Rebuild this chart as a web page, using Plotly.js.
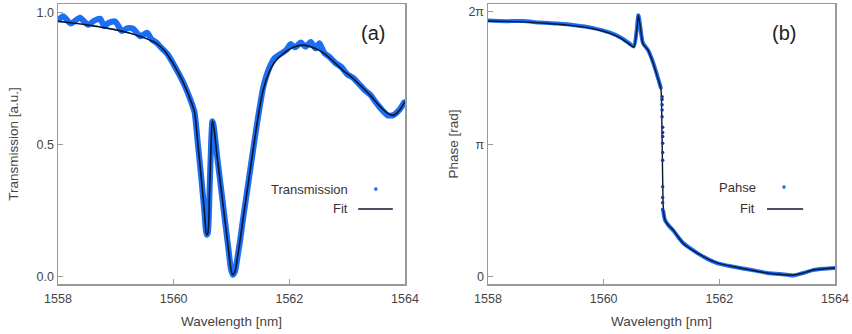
<!DOCTYPE html>
<html>
<head>
<meta charset="utf-8">
<script src="https://cdn.plot.ly/plotly-3.0.1.min.js"></script>
<style>html,body{margin:0;padding:0;background:#fff}#chart{width:852px;height:334px}</style>
</head>
<body>
<div id="chart"></div>
<script>
// ---------- Panel (a): Transmission ----------
const transX = [1558.00,1558.09,1558.22,1558.38,1558.52,1558.62,1558.73,1558.80,1558.87,1558.99,1559.10,1559.20,1559.30,1559.42,1559.54,1559.62,1559.70,1559.80,1559.90,1560.00,1560.10,1560.20,1560.30,1560.36,1560.42,1560.48,1560.53,1560.57,1560.59,1560.62,1560.65,1560.67,1560.69,1560.75,1560.80,1560.85,1560.90,1560.95,1560.99,1561.02,1561.06,1561.10,1561.15,1561.20,1561.30,1561.40,1561.47,1561.55,1561.65,1561.75,1561.85,1561.95,1562.02,1562.10,1562.20,1562.28,1562.37,1562.45,1562.52,1562.60,1562.70,1562.80,1562.90,1563.00,1563.10,1563.20,1563.30,1563.40,1563.50,1563.60,1563.70,1563.80,1563.90,1564.00];
const transY = [0.972,0.988,0.960,0.982,0.955,0.970,0.978,0.950,0.962,0.968,0.932,0.942,0.940,0.912,0.925,0.900,0.888,0.865,0.842,0.805,0.765,0.720,0.665,0.625,0.500,0.370,0.250,0.160,0.165,0.320,0.520,0.590,0.575,0.460,0.370,0.280,0.190,0.100,0.030,0.008,0.020,0.070,0.140,0.220,0.370,0.520,0.620,0.720,0.790,0.830,0.845,0.860,0.882,0.870,0.888,0.872,0.890,0.866,0.885,0.850,0.832,0.810,0.795,0.768,0.755,0.732,0.708,0.690,0.660,0.633,0.612,0.613,0.632,0.666];
const fitTX = [1558.00,1558.25,1558.50,1558.75,1559.00,1559.25,1559.50,1559.70,1559.85,1560.00,1560.10,1560.20,1560.30,1560.36,1560.42,1560.48,1560.53,1560.57,1560.59,1560.62,1560.65,1560.67,1560.69,1560.75,1560.80,1560.85,1560.90,1560.95,1560.99,1561.02,1561.06,1561.10,1561.15,1561.20,1561.30,1561.40,1561.47,1561.55,1561.65,1561.75,1561.90,1562.07,1562.25,1562.45,1562.60,1562.77,1562.94,1563.06,1563.23,1563.41,1563.55,1563.70,1563.80,1563.90,1564.00];
const fitTY = [0.968,0.962,0.955,0.946,0.936,0.923,0.905,0.885,0.855,0.805,0.765,0.720,0.665,0.625,0.500,0.370,0.250,0.160,0.165,0.320,0.520,0.590,0.575,0.460,0.370,0.280,0.190,0.100,0.030,0.008,0.020,0.070,0.140,0.220,0.370,0.520,0.620,0.710,0.775,0.815,0.847,0.870,0.878,0.865,0.847,0.815,0.780,0.760,0.725,0.685,0.650,0.620,0.612,0.630,0.665];

// ---------- Panel (b): Phase (in units of pi) ----------
const phaseX = [1558.0,1558.3,1558.6,1558.9,1559.2,1559.5,1559.8,1560.1,1560.3,1560.45,1560.52,1560.57,1560.60,1560.63,1560.68,1560.77,1560.85,1560.93,1560.99];
const phaseY = [1.935,1.930,1.932,1.920,1.912,1.900,1.880,1.845,1.805,1.760,1.740,1.860,1.975,1.900,1.765,1.710,1.625,1.515,1.425];
const phaseJumpX = [1561.01,1561.01,1561.01,1561.01,1561.01,1561.02,1561.02,1561.02,1561.02,1561.02,1561.02,1561.02,1561.02,1561.02,1561.02];
const phaseJumpY = [1.36,1.34,1.30,1.26,1.21,1.13,1.09,1.06,1.01,0.94,0.88,0.68,0.60,0.56,0.51];
const phaseLowX = [1561.03,1561.06,1561.12,1561.20,1561.30,1561.37,1561.50,1561.62,1561.80,1561.96,1562.15,1562.36,1562.60,1562.83,1563.05,1563.28,1563.45,1563.62,1563.80,1564.00];
const phaseLowY = [0.500,0.430,0.390,0.352,0.295,0.258,0.215,0.180,0.135,0.105,0.085,0.068,0.050,0.030,0.022,0.012,0.030,0.052,0.062,0.068];
const fitPX = [1558.0,1558.5,1559.0,1559.5,1559.8,1560.1,1560.3,1560.45,1560.52,1560.57,1560.60,1560.63,1560.68,1560.77,1560.85,1560.93,1560.99,1561.005,1561.015,1561.025,1561.035,1561.06,1561.12,1561.20,1561.37,1561.62,1561.96,1562.36,1562.83,1563.28,1563.45,1563.62,1564.0];
const fitPY = [1.932,1.927,1.915,1.895,1.875,1.840,1.800,1.755,1.735,1.850,1.975,1.900,1.760,1.710,1.620,1.510,1.420,1.200,0.900,0.600,0.500,0.430,0.390,0.355,0.257,0.180,0.106,0.068,0.030,0.015,0.030,0.053,0.068];

const xTicks = [1558,1560,1562,1564];
const phaseTickVals = [0,1,2];
const phaseTickText = ['0','\u03c0','2\u03c0'];
const transTickVals = [0,0.5,1.0];

const BLUE = '#1c6ff2';
const DARK = '#0d1630';
const AX = '#9a9a9a';
const TXT = '#444444';
const FONT = 'Liberation Sans, Arial, sans-serif';

const traces = [
  {x: transX, y: transY, xaxis:'x', yaxis:'y', mode:'lines+markers', line:{color:BLUE, width:6, shape:'spline', smoothing:0.6}, marker:{color:BLUE, size:4}, showlegend:false},
  {x: fitTX, y: fitTY, xaxis:'x', yaxis:'y', mode:'lines', line:{color:DARK, width:1.6, shape:'spline', smoothing:0.8}, showlegend:false},
  {x: phaseX, y: phaseY, xaxis:'x2', yaxis:'y2', mode:'lines+markers', line:{color:BLUE, width:4, shape:'spline', smoothing:0.8}, marker:{color:BLUE, size:3}, showlegend:false},
  {x: phaseLowX, y: phaseLowY, xaxis:'x2', yaxis:'y2', mode:'lines+markers', line:{color:BLUE, width:4, shape:'spline', smoothing:0.8}, marker:{color:BLUE, size:3}, showlegend:false},
  {x: fitPX, y: fitPY, xaxis:'x2', yaxis:'y2', mode:'lines', line:{color:DARK, width:1.4, shape:'spline', smoothing:0.6}, showlegend:false},
  {x: phaseJumpX, y: phaseJumpY, xaxis:'x2', yaxis:'y2', mode:'markers', marker:{color:'#1a3a9a', size:3.5}, showlegend:false}
];

function axisX(domain, anchor){
  return {domain:domain, anchor:anchor, range:[1558,1564], tickvals:xTicks, ticks:'inside', ticklen:5, tickcolor:AX,
    showline:true, linecolor:AX, linewidth:1.5, mirror:true, showgrid:false, zeroline:false,
    tickfont:{family:FONT, size:12.5, color:TXT}, ticklabelstandoff:2,
    title:{text:'Wavelength [nm]', font:{family:FONT, size:13.5, color:TXT}, standoff:12}};
}

const layout = {
  width:852, height:334,
  margin:{l:0, r:0, t:4, b:50},
  paper_bgcolor:'#ffffff', plot_bgcolor:'#ffffff',
  xaxis: axisX([58/852, 405/852], 'y'),
  xaxis2: axisX([488/852, 835/852], 'y2'),
  yaxis: {domain:[0,1], anchor:'x', range:[-0.027,1.034], tickvals:transTickVals, tickformat:'.1f', ticks:'inside', ticklen:5, tickcolor:AX,
    showline:true, linecolor:AX, linewidth:1.5, mirror:true, showgrid:false, zeroline:false,
    tickfont:{family:FONT, size:12.5, color:TXT},
    title:{text:'Transmission [a.u.]', font:{family:FONT, size:13.5, color:TXT}, standoff:15}},
  yaxis2: {domain:[0,1], anchor:'x2', range:[-0.053,2.06], tickvals:phaseTickVals, ticktext:phaseTickText, ticks:'inside', ticklen:5, tickcolor:AX,
    showline:true, linecolor:AX, linewidth:1.5, mirror:true, showgrid:false, zeroline:false,
    tickfont:{family:FONT, size:12.5, color:TXT},
    title:{text:'Phase [rad]', font:{family:FONT, size:13.5, color:TXT}, standoff:6}},
  annotations:[
    {xref:'x domain', yref:'y domain', x:0.908, y:0.896, xanchor:'center', yanchor:'middle', text:'(a)', showarrow:false, font:{family:FONT, size:20, color:'#222'}},
    {xref:'x2 domain', yref:'y2 domain', x:0.853, y:0.896, xanchor:'center', yanchor:'middle', text:'(b)', showarrow:false, font:{family:FONT, size:20, color:'#222'}},
    {xref:'x domain', yref:'y domain', x:0.841, y:0.339, xanchor:'right', yanchor:'middle', text:'Transmission', showarrow:false, font:{family:FONT, size:13, color:'#333'}},
    {xref:'x domain', yref:'y domain', x:0.841, y:0.268, xanchor:'right', yanchor:'middle', text:'Fit', showarrow:false, font:{family:FONT, size:13, color:'#333'}},
    {xref:'x2 domain', yref:'y2 domain', x:0.778, y:0.346, xanchor:'right', yanchor:'middle', text:'Pahse', showarrow:false, font:{family:FONT, size:13, color:'#333'}},
    {xref:'x2 domain', yref:'y2 domain', x:0.775, y:0.268, xanchor:'right', yanchor:'middle', text:'Fit', showarrow:false, font:{family:FONT, size:13, color:'#333'}}
  ],
  shapes:[
    {type:'line', xref:'x domain', yref:'y domain', x0:0.865, x1:0.965, y0:0.268, y1:0.268, line:{color:DARK, width:1.4}},
    {type:'circle', xref:'x domain', yref:'y domain', xsizemode:'pixel', ysizemode:'pixel', xanchor:0.916, yanchor:0.339, x0:-1.8, x1:1.8, y0:-1.8, y1:1.8, fillcolor:BLUE, line:{width:0}},
    {type:'line', xref:'x2 domain', yref:'y2 domain', x0:0.804, x1:0.908, y0:0.268, y1:0.268, line:{color:DARK, width:1.4}},
    {type:'circle', xref:'x2 domain', yref:'y2 domain', xsizemode:'pixel', ysizemode:'pixel', xanchor:0.853, yanchor:0.346, x0:-1.8, x1:1.8, y0:-1.8, y1:1.8, fillcolor:BLUE, line:{width:0}}
  ]
};

Plotly.newPlot('chart', traces, layout, {staticPlot:true, displayModeBar:false});
</script>
</body>
</html>
